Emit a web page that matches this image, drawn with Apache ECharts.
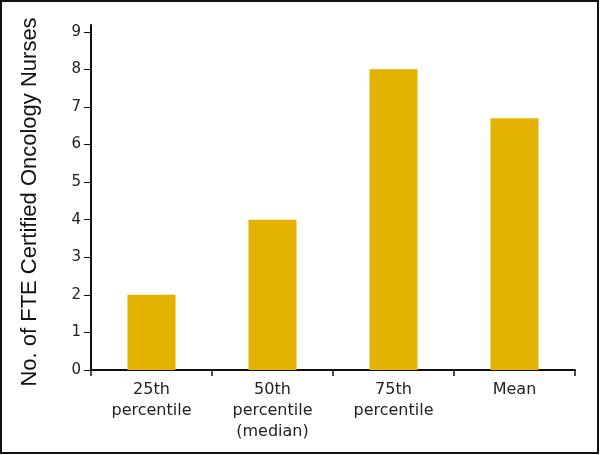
<!DOCTYPE html>
<html>
<head>
<meta charset="utf-8">
<script src="https://cdn.jsdelivr.net/npm/echarts@6/dist/echarts.min.js"></script>
<style>
html,body{margin:0;padding:0;background:#fff;}
#chart{width:600px;height:455px;}
</style>
</head>
<body>
<div id="chart"></div>
<script>
const categories = ['25th\npercentile', '50th\npercentile\n(median)', '75th\npercentile', 'Mean'];
const values = [2, 4, 8, 6.7];
const yTicks = [0, 1, 2, 3, 4, 5, 6, 7, 8, 9];
const yTitle = 'No. of FTE Certified Oncology Nurses';

const chart = echarts.init(document.getElementById('chart'), null, {renderer: 'canvas'});
chart.setOption({
  animation: false,
  backgroundColor: '#fff',
  grid: {left: 91, right: 25, top: 25, bottom: 85},
  graphic: [{
    type: 'rect',
    shape: {x: 1, y: 1, width: 597, height: 452},
    style: {fill: 'none', stroke: '#111', lineWidth: 2},
    silent: true
  }],
  xAxis: {
    type: 'category',
    data: categories,
    axisLine: {lineStyle: {color: '#111', width: 2}},
    axisTick: {show: true, length: 6, lineStyle: {color: '#111', width: 1.5}},
    axisLabel: {
      color: '#222', fontFamily: 'DejaVu Sans', fontSize: 16, lineHeight: 21, margin: 9,
      interval: 0
    }
  },
  yAxis: {
    type: 'value',
    min: 0,
    max: 9.18,
    name: yTitle,
    nameLocation: 'middle',
    nameGap: 50,
    nameRotate: 90,
    nameTextStyle: {color: '#111', fontFamily: '"Liberation Sans", sans-serif', fontSize: 22, padding: [0, 9, 0, 0]},
    splitLine: {show: false},
    axisLine: {show: true, lineStyle: {color: '#111', width: 2}},
    axisTick: {show: true, length: 7, customValues: yTicks, lineStyle: {color: '#111', width: 1}},
    axisLabel: {customValues: yTicks, color: '#222', fontFamily: 'DejaVu Sans', fontSize: 15, margin: 10}
  },
  series: [{
    type: 'bar',
    data: values,
    barWidth: 48,
    itemStyle: {color: '#E4B200'}
  }]
});
</script>
</body>
</html>
